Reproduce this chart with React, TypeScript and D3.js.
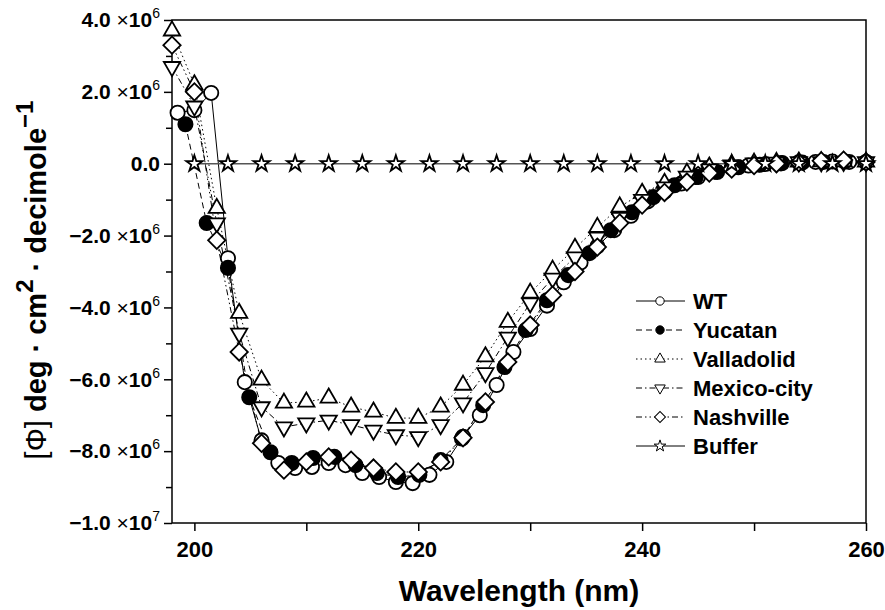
import React, { useEffect, useRef } from 'react';
import * as d3 from 'd3';

// molar ellipticity, in units of 10^6 deg cm2 decimole-1
const wtNm = [198.5, 200, 201.5, 203, 204.5, 206, 207.5, 209, 210.5, 212, 213.5, 215, 216.5, 218, 219.5, 221, 222.5, 224, 225.5, 227, 228.5, 230, 231.5, 233, 234.5, 236, 237.5, 239, 240.5, 242, 243.5, 245, 246.5, 248, 249.5, 251, 252.5, 254, 255.5, 257, 258.5, 260];
const wtPhi = [1.42, 1.49, 1.97, -2.63, -6.08, -7.7, -8.33, -8.47, -8.44, -8.33, -8.39, -8.61, -8.72, -8.86, -8.89, -8.66, -8.3, -7.6, -7.0, -6.16, -5.24, -4.6, -3.95, -3.3, -2.75, -2.3, -1.85, -1.45, -1.05, -0.78, -0.55, -0.37, -0.22, -0.12, -0.05, -0.01, 0.02, 0.04, 0.05, 0.06, 0.05, 0.04];

const yucatanNm = [199.2, 201.1, 203.0, 204.9, 206.8, 208.7, 210.6, 212.5, 214.4, 216.3, 218.2, 220.1, 222.0, 223.9, 225.8, 227.7, 229.6, 231.5, 233.4, 235.3, 237.2, 239.1, 241.0, 242.9, 244.8, 246.7, 248.6, 250.5, 252.4, 254.3, 256.2, 258.1, 260.0];
const yucatanPhi = [1.1, -1.65, -2.9, -6.5, -8.03, -8.33, -8.19, -8.16, -8.39, -8.61, -8.72, -8.66, -8.25, -7.65, -6.72, -5.66, -4.63, -3.8, -3.1, -2.49, -1.85, -1.35, -0.93, -0.6, -0.37, -0.23, -0.1, -0.03, 0.01, 0.03, 0.05, 0.06, 0.05];

const evenNm = [198, 200, 202, 204, 206, 208, 210, 212, 214, 216, 218, 220, 222, 224, 226, 228, 230, 232, 234, 236, 238, 240, 242, 244, 246, 248, 250, 252, 254, 256, 258, 260];
const valladolidPhi = [3.7, 2.2, -1.24, -4.16, -6.02, -6.66, -6.63, -6.52, -6.77, -6.91, -7.08, -7.08, -6.77, -6.16, -5.37, -4.41, -3.6, -2.96, -2.35, -1.77, -1.2, -0.82, -0.54, -0.26, -0.09, -0.02, 0.02, 0.04, 0.05, 0.06, 0.06, 0.05];
const mexicoPhi = [2.7, 1.6, -1.65, -4.72, -6.77, -7.33, -7.22, -7.14, -7.27, -7.42, -7.55, -7.6, -7.27, -6.66, -5.82, -4.83, -3.88, -3.19, -2.6, -2.05, -1.5, -1.0, -0.65, -0.35, -0.15, -0.04, 0.02, 0.04, 0.05, 0.05, 0.06, 0.05];
const nashvillePhi = [3.3, 2.0, -2.13, -5.24, -7.78, -8.53, -8.3, -8.16, -8.25, -8.47, -8.58, -8.58, -8.3, -7.63, -6.63, -5.52, -4.49, -3.66, -3.0, -2.32, -1.65, -1.15, -0.8, -0.51, -0.26, -0.15, -0.05, 0.0, 0.03, 0.08, 0.1, 0.05];

const bufferNm = [200, 203, 206, 209, 212, 215, 218, 221, 224, 227, 230, 233, 236, 239, 242, 245, 248, 251, 254, 257, 260];
const bufferPhi = [0, 0, 0, 0, 0, 0, 0, 0, 0, 0, 0, 0, 0, 0, 0, 0, 0, 0, 0, 0, 0];

const seriesNames = ['WT', 'Yucatan', 'Valladolid', 'Mexico-city', 'Nashville', 'Buffer'];

const xMajor = [200, 220, 240, 260];
const xMinor = [210, 230, 250];
const yMajor = [4, 2, 0, -2, -4, -6, -8, -10];
const yMinor = [3, 1, -1, -3, -5, -7, -9];
const yTickMantissa = ['4.0', '2.0', '0.0', '\u22122.0', '\u22124.0', '\u22126.0', '\u22128.0', '\u22121.0'];
const yTickExponent = ['6', '6', '', '6', '6', '6', '6', '7'];

const FONT = "'Liberation Sans', Arial, Helvetica, sans-serif";

export default function App() {
  const ref = useRef(null);

  useEffect(() => {
    const svg = d3.select(ref.current);
    svg.selectAll('*').remove();

    const left = 172, right = 866, top = 20, bottom = 523;

    const x = d3.scaleLinear().domain([198, 260]).range([left, right]);
    const y = d3.scaleLinear().domain([-10, 4]).range([bottom, top]);

    const series = [
      { name: seriesNames[0], nm: wtNm, phi: wtPhi, sym: d3.symbolCircle, rot: 0, fill: '#fff', dash: null, color: '#000' },
      { name: seriesNames[1], nm: yucatanNm, phi: yucatanPhi, sym: d3.symbolCircle, rot: 0, fill: '#000', dash: '6,4', color: '#000' },
      { name: seriesNames[2], nm: evenNm, phi: valladolidPhi, sym: d3.symbolTriangle, rot: 0, fill: '#fff', dash: '1.5,3', color: '#000' },
      { name: seriesNames[3], nm: evenNm, phi: mexicoPhi, sym: d3.symbolTriangle, rot: 180, fill: '#fff', dash: '6,3,1.5,3', color: '#000' },
      { name: seriesNames[4], nm: evenNm, phi: nashvillePhi, sym: d3.symbolSquare, rot: 45, fill: '#fff', dash: '6,3,1.5,3,1.5,3', color: '#000' },
      { name: seriesNames[5], nm: bufferNm, phi: bufferPhi, sym: d3.symbolStar, rot: 0, fill: '#fff', dash: null, color: '#555' }
    ];

    // marker areas for plot and legend
    function plotSize(sym) {
      if (sym === d3.symbolCircle) return 160;
      if (sym === d3.symbolTriangle) return 115;
      if (sym === d3.symbolSquare) return 150;
      return 82;
    }
    function legendSize(sym) {
      if (sym === d3.symbolCircle) return 55;
      if (sym === d3.symbolTriangle) return 48;
      if (sym === d3.symbolSquare) return 60;
      return 42;
    }

    // y axis
    const gy = svg.append('g').attr('transform', 'translate(' + left + ',0)');
    gy.call(d3.axisLeft(y).tickValues(yMajor).tickSizeInner(8).tickSizeOuter(0).tickPadding(4).tickFormat(() => ''));
    gy.selectAll('.tick text').each(function (d, i) {
      const t = d3.select(this)
        .attr('font-family', FONT)
        .attr('font-weight', 'bold')
        .attr('font-size', 21)
        .attr('fill', '#000');
      t.append('tspan').text(yTickMantissa[i]);
      if (yTickExponent[i]) {
        t.append('tspan').attr('font-weight', 'normal').text(' \u00d7');
        t.append('tspan').text('10');
        t.append('tspan').attr('font-size', 14).attr('font-weight', 'normal').attr('dy', -9).text(yTickExponent[i]);
      }
    });
    svg.append('g').attr('transform', 'translate(' + left + ',0)')
      .call(d3.axisLeft(y).tickValues(yMinor).tickSizeInner(6).tickSizeOuter(0).tickFormat(() => ''));

    // x axis
    const gx = svg.append('g').attr('transform', 'translate(0,' + bottom + ')');
    gx.call(d3.axisBottom(x).tickValues(xMajor).tickSizeInner(8).tickSizeOuter(0).tickPadding(10).tickFormat(d3.format('d')));
    gx.selectAll('.tick text')
      .attr('font-family', FONT)
      .attr('font-weight', 'bold')
      .attr('font-size', 22)
      .attr('fill', '#000');
    svg.append('g').attr('transform', 'translate(0,' + bottom + ')')
      .call(d3.axisBottom(x).tickValues(xMinor).tickSizeInner(8).tickSizeOuter(0).tickFormat(() => ''));

    svg.selectAll('.domain').remove();
    svg.selectAll('.tick line').attr('stroke', '#000').attr('stroke-width', 1.5);

    // frame
    svg.append('rect')
      .attr('x', left).attr('y', top)
      .attr('width', right - left).attr('height', bottom - top)
      .attr('fill', 'none').attr('stroke', '#000').attr('stroke-width', 1.5);

    const line = d3.line().x(d => x(d[0])).y(d => y(d[1]));

    series.forEach(s => {
      const pts = s.nm.map((n, i) => [n, s.phi[i]]);
      svg.append('path')
        .datum(pts)
        .attr('d', line)
        .attr('fill', 'none')
        .attr('stroke', s.color)
        .attr('stroke-width', s.name === 'Buffer' ? 1.5 : 1)
        .attr('stroke-dasharray', s.dash);
    });

    series.forEach(s => {
      const pts = s.nm.map((n, i) => [n, s.phi[i]]);
      svg.append('g').selectAll('path')
        .data(pts)
        .enter().append('path')
          .attr('d', d3.symbol().type(s.sym).size(plotSize(s.sym)))
          .attr('transform', d => 'translate(' + x(d[0]) + ',' + y(d[1]) + ') rotate(' + s.rot + ')')
          .attr('fill', s.fill)
          .attr('stroke', '#000')
          .attr('stroke-width', 1.8);
    });

    // legend
    const legend = svg.selectAll('.legend')
      .data(series)
      .enter().append('g')
        .attr('class', 'legend')
        .attr('transform', (d, i) => 'translate(0,' + (301 + i * 29) + ')');

    legend.append('line')
      .attr('x1', 636).attr('x2', 685)
      .attr('stroke', '#000')
      .attr('stroke-width', 1)
      .attr('stroke-dasharray', d => d.dash);

    legend.append('path')
      .attr('d', d => d3.symbol().type(d.sym).size(legendSize(d.sym))())
      .attr('transform', d => 'translate(660,0) rotate(' + d.rot + ')')
      .attr('fill', d => d.fill)
      .attr('stroke', '#000')
      .attr('stroke-width', 1);

    legend.append('text')
      .attr('x', 693)
      .attr('y', 8)
      .attr('font-family', FONT)
      .attr('font-weight', 'bold')
      .attr('font-size', 22)
      .text(d => d.name);

    // axis titles
    svg.append('text')
      .attr('x', (left + right) / 2)
      .attr('y', 601)
      .attr('text-anchor', 'middle')
      .attr('font-family', FONT)
      .attr('font-weight', 'bold')
      .attr('font-size', 30)
      .text('Wavelength (nm)');

    const yt = svg.append('text')
      .attr('transform', 'translate(46,280) rotate(-90)')
      .attr('text-anchor', 'middle')
      .attr('font-family', FONT)
      .attr('font-weight', 'bold')
      .attr('font-size', 29);
    yt.append('tspan').attr('font-weight', 'normal').text('[\u03a6]');
    yt.append('tspan').text(' deg  \u00b7  cm');
    yt.append('tspan').attr('font-size', 24).attr('dy', -13).text('2');
    yt.append('tspan').attr('dy', 13).text('  \u00b7  decimole');
    yt.append('tspan').attr('font-size', 24).attr('dy', -13).text('\u22121');
  }, []);

  return (
    <svg ref={ref} width={885} height={610}
      style={{ position: 'absolute', left: 0, top: 0, background: '#fff' }} />
  );
}
